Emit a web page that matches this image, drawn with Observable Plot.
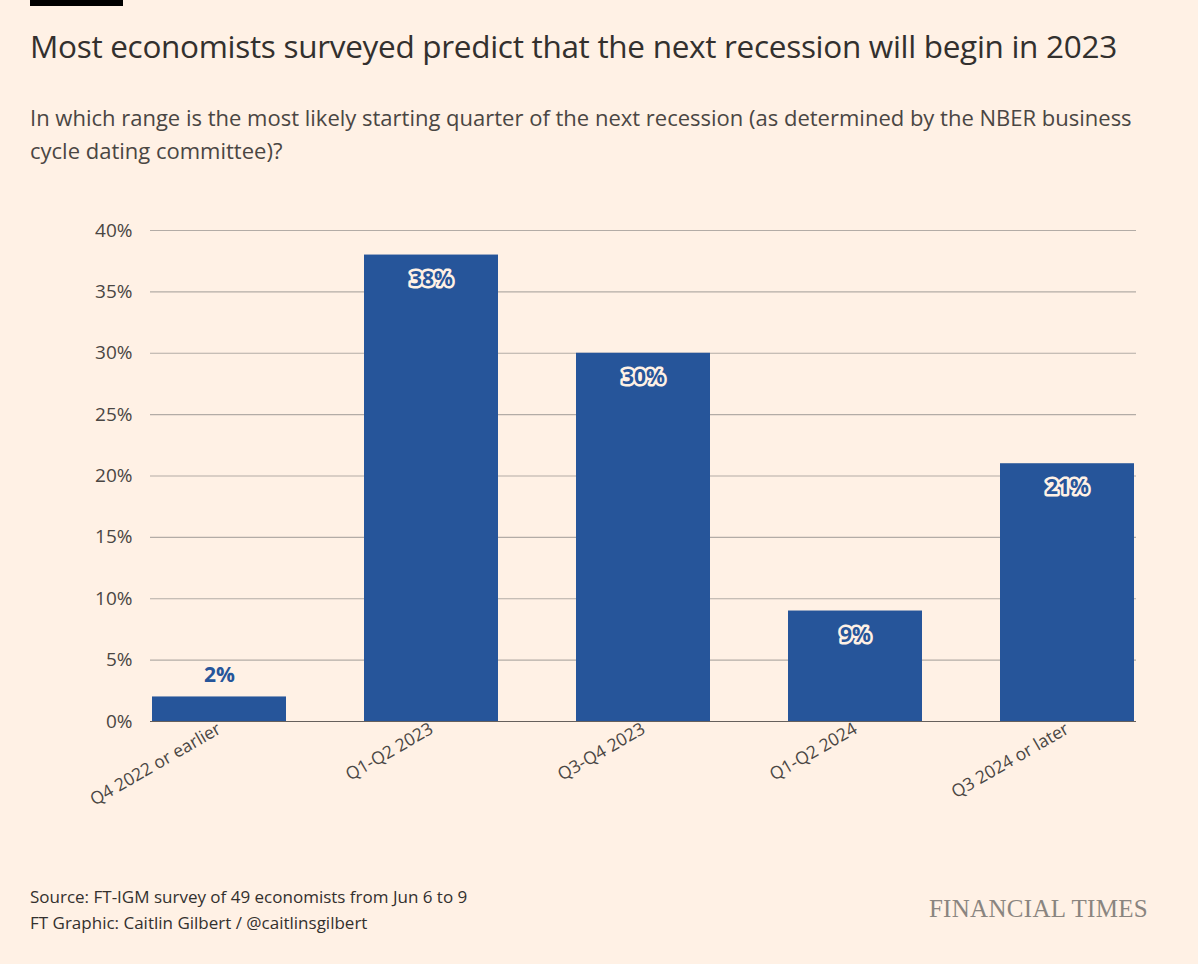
<!DOCTYPE html>
<html><head><meta charset="utf-8">
<script src="https://cdn.jsdelivr.net/npm/d3@7"></script>
<script src="https://cdn.jsdelivr.net/npm/@observablehq/plot@0.6"></script>
<style>
body{margin:0;background:#fff1e5;font-family:"Open Sans",sans-serif;color:#33302e;width:1198px;height:964px;position:relative;overflow:hidden}
#bar{position:absolute;left:30px;top:0;width:93px;height:6px;background:#000}
#title{position:absolute;left:30px;top:24px;font-size:31.5px;letter-spacing:-0.3px}
#sub{position:absolute;left:30px;top:101px;width:1110px;font-size:22px;line-height:33px;color:#4a4643}
#chart{position:absolute;left:0;top:200px}
#foot{position:absolute;left:30px;top:884px;font-size:17px;line-height:26px;color:#33302e}
#ft{position:absolute;right:50px;top:895px;font-family:"Liberation Serif",serif;font-size:25px;color:#8a8580;letter-spacing:0.3px}
</style></head><body>
<div id="bar"></div>
<div id="title">Most economists surveyed predict that the next recession will begin in 2023</div>
<div id="sub">In which range is the most likely starting quarter of the next recession (as determined by the NBER business cycle dating committee)?</div>
<div id="chart"></div>
<div id="foot">Source: FT-IGM survey of 49 economists from Jun 6 to 9<br>FT Graphic: Caitlin Gilbert / @caitlinsgilbert</div>
<div id="ft">FINANCIAL TIMES</div>
<script>
const categories=["Q4 2022 or earlier","Q1-Q2 2023","Q3-Q4 2023","Q1-Q2 2024","Q3 2024 or later"];
const values=[2,38,30,9,21];
const yTicks=[0,5,10,15,20,25,30,35,40];
const data=categories.map((c,i)=>({c,v:values[i]}));
const blue="#26559a";
const chart=Plot.plot({
  width:1198,height:680,marginLeft:150,marginRight:62,marginTop:30,marginBottom:159,
  style:{background:"transparent",fontFamily:"Open Sans, sans-serif",fontSize:"18px",color:"#4a4643"},
  x:{domain:categories,padding:0.37,paddingOuter:0,label:null,tickSize:0},
  y:{domain:[0,40],ticks:yTicks,label:null,tickSize:0,tickFormat:d=>d+"%"},
  marks:[
    Plot.ruleY(yTicks,{stroke:"#b3aca6",strokeWidth:1.2}),
    Plot.axisY({ticks:yTicks,tickSize:0,tickPadding:18,tickFormat:d=>d+"%",fontSize:19}),
    Plot.axisX({tickSize:0,tickRotate:-30,tickPadding:6,fontSize:17.5}),
    Plot.barY(data,{x:"c",y:"v",fill:blue}),
    Plot.ruleY([0],{stroke:"#66605c",strokeWidth:1.2}),
    Plot.text(data.filter(d=>d.v>=5),{x:"c",y:"v",text:d=>d.v+"%",dy:24,fill:blue,stroke:"#fff1e5",strokeWidth:5,fontWeight:"bold",fontSize:21}),
    Plot.text(data.filter(d=>d.v<5),{x:"c",y:"v",text:d=>d.v+"%",dy:-22,fill:blue,fontWeight:"bold",fontSize:21})
  ]
});
document.getElementById("chart").appendChild(chart);
</script>
</body></html>
